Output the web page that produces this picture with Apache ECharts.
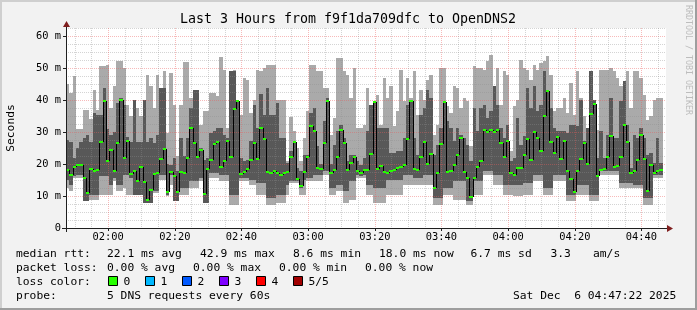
<!DOCTYPE html>
<html><head><meta charset="utf-8">
<script src="https://cdn.jsdelivr.net/npm/echarts@6/dist/echarts.min.js"></script>
<style>html,body{margin:0;padding:0;background:#f2f2f2}#c{width:697px;height:310px}</style>
</head><body><div id="c"></div>
<script>
// ---- time axis (seconds of day) ----
const START = 6442;   // 01:47:22
const END = 17242;    // 04:47:22
const STEP = 60;      // one probe round every 60 s
const xTickValues = [7200, 8400, 9600, 10800, 12000, 13200, 14400, 15600, 16800];
const xTickLabels = ['02:00', '02:20', '02:40', '03:00', '03:20', '03:40', '04:00', '04:20', '04:40'];
const yTickValues = [0, 10, 20, 30, 40, 50, 60];
const yTickLabels = ['0', '10 m', '20 m', '30 m', '40 m', '50 m', '60 m'];

// ---- series values (ms) ----
const medians = [
18.2,16.7,19.2,19.8,19.8,15.6,11.0,18.5,17.9,18.1,26.9,39.8,20.8,24.4,17.9,26.7,40.1,22.0,27.3,16.9,17.9,14.8,19.2,14.4,8.6,11.9,16.9,17.3,21.7,24.8,
11.3,17.5,16.1,11.3,17.5,17.3,21.9,31.3,26.5,22.3,24.4,10.6,18.5,21.3,26.3,26.9,19.2,21.0,27.3,22.3,37.3,39.8,16.9,17.5,18.5,21.3,26.7,21.5,31.3,27.9,
17.5,17.3,17.7,17.3,16.5,17.1,17.5,22.3,26.9,15.4,13.1,17.5,22.3,31.9,30.4,18.8,18.5,26.7,39.8,17.3,18.1,22.3,30.6,26.7,18.1,20.4,22.3,17.9,17.3,18.1,
18.1,23.1,39.4,18.5,19.4,17.5,17.3,17.7,18.1,18.8,19.2,19.8,27.9,39.8,18.3,18.1,22.3,26.9,20.0,23.1,12.5,17.3,26.3,39.4,17.5,17.7,19.8,22.9,28.1,17.5,
15.6,9.8,15.6,19.2,21.0,30.6,30.0,30.6,30.0,30.6,26.7,22.3,27.3,17.3,16.7,18.8,18.8,22.7,27.9,21.3,30.0,28.1,24.2,35.0,42.9,26.9,23.5,28.5,21.7,27.3,
17.9,15.4,11.3,17.9,21.7,26.7,20.0,35.6,38.8,16.3,18.1,18.5,22.3,28.8,19.2,19.4,22.3,32.3,26.9,17.3,17.9,21.3,29.2,21.7,11.7,19.8,17.3,17.9,18.0];
const upperInner = [ // 4th of 5 pings
27.6,27.0,22.0,25.0,27.0,28.0,29.0,27.0,36.0,35.4,35.4,43.8,31.0,29.0,30.0,39.0,40.6,38.5,28.5,27.0,40.1,27.0,27.0,40.1,27.0,28.1,26.6,29.2,43.7,43.7,
20.0,19.8,21.9,17.7,28.1,22.4,28.1,37.5,43.2,43.2,25.0,21.4,21.9,29.7,30.2,31.3,31.3,29.2,28.1,49.0,49.0,40.1,21.9,20.8,21.4,27.1,38.5,31.3,42.0,35.4,
43.8,35.4,35.4,39.1,28.1,28.1,20.3,24.0,27.1,18.8,17.7,22.9,22.9,36.0,37.5,25.5,20.0,33.3,40.6,20.0,26.0,30.2,32.3,28.1,20.8,22.9,22.9,20.8,19.8,21.9,
30.2,38.5,39.6,31.3,31.3,31.3,31.3,23.4,23.4,24.0,24.0,28.1,38.5,40.1,28.1,22.9,35.4,37.5,43.2,40.6,22.9,26.0,31.3,39.6,33.3,31.3,27.1,31.3,29.2,28.1,
26.0,20.8,37.5,30.2,37.5,38.5,34.4,36.5,44.3,38.5,31.3,28.1,32.3,20.8,21.9,34.4,26.0,28.6,43.8,37.5,44.3,36.5,38.5,49.0,43.2,37.5,31.3,30.2,30.2,30.2,
29.7,32.3,32.3,31.8,40.1,27.1,31.3,49.0,40.1,21.9,30.2,21.9,29.2,40.6,28.1,28.1,39.6,45.8,32.3,18.8,29.2,28.1,31.3,28.1,22.9,23.4,20.3,28.1,20.3];
const maxima = [
45.0,42.3,47.5,31.0,31.0,37.0,37.0,34.0,43.0,36.9,50.5,50.5,50.8,37.5,44.3,52.3,52.1,50.0,38.5,35.0,40.1,37.5,35.0,40.1,47.9,44.3,37.5,47.9,43.7,49.0,
29.7,48.4,38.5,22.4,38.5,51.9,51.9,40.6,43.2,43.2,32.3,36.5,36.5,42.2,42.2,41.1,53.3,49.5,31.3,49.0,49.5,40.1,35.4,46.9,46.4,35.9,40.1,49.5,49.0,50.0,
51.0,51.0,51.0,40.1,40.1,40.1,20.8,34.6,30.2,25.0,20.8,28.1,36.5,51.0,51.0,49.0,49.0,43.8,43.8,29.2,34.4,53.1,53.1,49.0,47.9,40.6,50.0,31.3,31.3,32.3,
43.8,38.5,39.6,41.7,32.3,46.9,40.6,44.3,31.8,36.5,49.5,39.6,46.9,40.6,49.0,35.4,43.2,40.1,46.4,47.9,29.2,32.3,50.0,50.0,38.0,35.9,44.3,43.8,37.5,40.6,
39.8,25.5,50.5,50.0,50.0,49.5,52.1,54.2,44.3,50.0,38.5,49.0,47.9,24.0,38.0,40.1,52.6,50.0,49.5,46.4,51.0,49.5,51.6,52.1,53.6,47.9,36.5,37.5,37.5,40.6,
35.9,45.3,35.4,49.0,40.6,34.9,31.3,49.0,40.1,30.7,49.5,49.5,49.5,50.0,49.0,46.9,44.3,45.8,49.0,37.5,49.0,49.0,46.9,41.7,33.9,34.9,40.1,40.6,40.6];
const lowerInner = [ // 2nd of 5 pings
15.1,13.5,16.1,16.7,16.7,8.3,8.3,10.4,10.4,10.4,16.1,16.1,16.1,13.5,15.6,13.5,13.5,16.7,16.7,15.6,10.4,10.4,10.4,7.8,7.8,7.8,11.5,11.5,16.7,16.7,
10.4,16.7,8.3,8.3,12.5,12.5,12.5,14.6,14.6,14.6,15.6,7.8,7.8,17.2,17.2,17.2,16.7,16.7,16.7,10.4,10.4,10.4,15.6,15.6,15.6,15.1,15.1,14.1,14.1,14.1,
9.4,9.4,9.4,10.4,10.4,10.4,13.5,14.6,14.6,14.6,12.5,15.1,15.6,15.6,16.7,16.7,16.7,17.7,17.7,12.5,12.5,13.5,13.5,11.5,11.5,14.6,14.6,16.7,16.1,16.7,
13.5,13.5,12.5,12.5,12.5,12.5,15.1,15.1,15.1,15.1,15.1,16.7,16.7,16.7,15.6,15.6,15.6,16.7,16.7,16.7,9.4,9.4,9.4,12.5,12.5,12.5,14.6,14.6,14.6,14.6,
8.3,8.3,14.6,14.6,14.6,17.7,17.7,17.7,16.7,16.7,16.7,13.5,13.5,13.5,13.5,13.5,13.5,14.1,14.1,14.1,16.7,16.7,16.7,12.5,12.5,12.5,16.7,16.7,16.7,16.7,
10.4,10.4,10.4,13.5,13.5,13.5,13.5,10.4,10.4,10.4,17.7,17.7,17.7,17.7,17.7,17.7,14.1,14.1,14.1,14.1,13.5,13.5,13.5,9.4,9.4,9.4,16.7,16.7,16.7];
const minima = [
12.5,11.5,15.6,15.6,15.6,8.3,8.3,8.9,8.9,8.9,10.4,10.4,10.4,10.4,14.6,11.5,11.5,12.5,10.4,10.4,10.4,10.4,10.4,7.8,7.8,7.8,10.9,10.9,15.1,15.1,
9.9,13.5,8.3,8.3,10.4,10.4,10.4,12.5,12.5,12.5,14.6,7.8,7.8,15.6,15.6,15.6,14.6,14.6,14.6,7.3,7.3,7.3,14.6,14.6,14.6,13.5,13.5,10.4,10.4,10.4,
7.3,7.3,7.3,7.8,7.8,7.8,10.4,14.1,14.1,14.1,10.4,10.4,14.6,14.6,14.6,14.6,14.6,16.7,16.7,10.4,10.4,11.5,11.5,7.8,7.8,8.9,8.9,15.6,15.6,15.6,
10.4,10.4,7.8,7.8,7.8,7.8,10.4,10.4,10.4,10.4,10.4,13.5,13.5,13.5,13.5,13.5,13.5,13.5,13.5,13.5,7.3,7.3,7.3,10.4,10.4,10.4,8.9,8.9,8.9,8.9,
7.3,7.3,10.4,10.4,10.4,16.7,16.7,16.7,13.5,13.5,13.5,10.4,10.4,10.4,9.9,9.9,9.9,10.4,10.4,10.4,14.6,14.6,14.6,10.4,10.4,10.4,14.6,14.6,14.6,14.6,
8.3,8.3,8.3,10.4,10.4,10.4,10.4,8.3,8.3,8.3,16.7,16.7,16.7,16.7,16.7,16.7,12.5,12.5,12.5,12.5,12.5,12.5,12.5,7.3,7.3,7.3,15.6,15.6,15.6];

// ---- texts ----
const titleText = 'Last 3 Hours from f9f1da709dfc to OpenDNS2';
const yAxisTitle = 'Seconds';
const watermark = 'RRDTOOL / TOBI OETIKER';
const legendRow1 = ['median rtt:', '22.1 ms avg', '42.9 ms max', '8.6 ms min', '18.0 ms now', '6.7 ms sd', '3.3', 'am/s'];
const legendRow2 = ['packet loss:', '0.00 % avg', '0.00 % max', '0.00 % min', '0.00 % now'];
const lossLabels = ['0', '1', '2', '3', '4', '5/5'];
const lossColors = ['#26ff00', '#00b8ff', '#0059ff', '#7e00ff', '#ff0000', '#a10000'];
const legendRow4 = ['probe:', '5 DNS requests every 60s'];
const dateText = 'Sat Dec  6 04:47:22 2025';

// ---- layout / style ----
const FONT = '"DejaVu Sans Mono", monospace';
const LIGHT = '#aaaaaa', DARK = '#585858', MEDIAN = '#26ff00';
const GRID = 'rgba(143,143,143,0.38)', MGRID = 'rgba(235,90,90,0.42)';
const AXIS = 'rgb(31,31,31)', ARROW = 'rgb(128,31,31)';
const G = {left: 66, top: 28, width: 600, height: 200};
const YMAX = 62.5;

const smokeData = medians.map((m, k) => [START + STEP * k, START + STEP * (k + 1), minima[k], lowerInner[k], m, upperInner[k], maxima[k], k > 0 ? medians[k - 1] : m]);
const gridV = []; for (let t = 6600; t < END; t += 300) gridV.push([t, 0]);
const gridH = []; for (let i = 1; i * 2.5 <= YMAX; i++) gridH.push([START, i * 2.5]);

const chart = echarts.init(document.getElementById('c'), null, {renderer: 'canvas', width: 697, height: 310});

function fmtTime(v) { const i = xTickValues.indexOf(v); return i >= 0 ? xTickLabels[i] : ''; }
function fmtY(v) { const i = yTickValues.indexOf(v); return i >= 0 ? yTickLabels[i] : ''; }

const texts = [];
const t = (text, x, y, size) => texts.push({type: 'text', x, y, z: 100, style: {text, font: size + 'px ' + FONT, fill: '#000', align: 'left', verticalAlign: 'middle', textAlign: 'left', textVerticalAlign: 'middle'}});
texts.push({type: 'text', x: 348, y: 19.5, z: 100, style: {text: titleText, font: '13.3px ' + FONT, fill: '#000', align: 'center', verticalAlign: 'middle', textAlign: 'center', textVerticalAlign: 'middle'}});
texts.push({type: 'text', x: 11, y: 128, rotation: Math.PI / 2, z: 100, style: {text: yAxisTitle, font: '11.3px ' + FONT, fill: '#000', align: 'center', verticalAlign: 'middle', textAlign: 'center', textVerticalAlign: 'middle'}});
texts.push({type: 'text', x: 688, y: 60, rotation: -Math.PI / 2, z: 100, style: {text: watermark, font: '8.3px ' + FONT, fill: '#bdbdbd', align: 'center', verticalAlign: 'middle', textAlign: 'center', textVerticalAlign: 'middle'}});
const row1X = [16, 107, 200, 293, 379, 470.5, 550.5, 593];
legendRow1.forEach((s, i) => t(s, row1X[i], 254.5, 11.3));
const row2X = [16, 107, 193, 279, 365];
legendRow2.forEach((s, i) => t(s, row2X[i], 268.5, 11.3));
t('loss color:', 16, 282, 11.3);
const sqX = [108.5, 145.5, 182.5, 219.5, 256.5, 293.5];
lossLabels.forEach((s, i) => {
  texts.push({type: 'rect', z: 100, shape: {x: sqX[i], y: 276.5, width: 9, height: 9}, style: {fill: lossColors[i], stroke: '#000', lineWidth: 1}});
  t(s, sqX[i] + 15, 282, 11.3);
});
t(legendRow4[0], 16, 296.5, 11.3);
t(legendRow4[1], 107, 296.5, 11.3);
t(dateText, 513, 296.5, 11.3);

// frame + axes decorations
const deco = [
  {type: 'rect', shape: {x: 0, y: 0, width: 697, height: 2}, style: {fill: '#cfcfcf'}, z: 90},
  {type: 'rect', shape: {x: 0, y: 0, width: 2, height: 310}, style: {fill: '#cfcfcf'}, z: 90},
  {type: 'rect', shape: {x: 0, y: 308, width: 697, height: 2}, style: {fill: '#9e9e9e'}, z: 91},
  {type: 'rect', shape: {x: 695, y: 0, width: 2, height: 310}, style: {fill: '#9e9e9e'}, z: 91},
  {type: 'line', shape: {x1: 62, y1: 228.5, x2: 668, y2: 228.5}, style: {stroke: AXIS, lineWidth: 1}, z: 95},
  {type: 'line', shape: {x1: 66.5, y1: 232, x2: 66.5, y2: 26}, style: {stroke: AXIS, lineWidth: 1}, z: 95},
  {type: 'polygon', shape: {points: [[667, 225], [673, 228.5], [667, 232]]}, style: {fill: ARROW}, z: 96},
  {type: 'polygon', shape: {points: [[63, 27], [66.5, 21], [70, 27]]}, style: {fill: ARROW}, z: 96}
];

chart.setOption({
  animation: false,
  backgroundColor: '#f2f2f2',
  grid: {left: G.left, top: G.top, width: G.width, height: G.height, show: true, backgroundColor: '#ffffff', borderWidth: 0, containLabel: false},
  xAxis: {
    type: 'value', min: START, max: END,
    axisLine: {show: false},
    splitLine: {show: false},
    axisTick: {show: true, customValues: xTickValues, length: 3, lineStyle: {color: AXIS}},
    axisLabel: {customValues: xTickValues, formatter: fmtTime, margin: 4, color: '#000', fontSize: 10.4, fontFamily: FONT}
  },
  yAxis: {
    type: 'value', min: 0, max: YMAX,
    axisLine: {show: false},
    splitLine: {show: false},
    axisTick: {show: true, customValues: yTickValues, length: 3, lineStyle: {color: AXIS}},
    axisLabel: {customValues: yTickValues, formatter: fmtY, margin: 5, color: '#000', fontSize: 10.4, fontFamily: FONT}
  },
  graphic: {elements: deco.concat(texts)},
  series: [
    {
      type: 'custom', name: 'smoke', z: 2, data: smokeData,
      encode: {x: [0, 1], y: [2, 3, 4, 5, 6]},
      renderItem(params, api) {
        const t0 = api.value(0), t1 = api.value(1);
        const x0 = Math.round(api.coord([t0, 0])[0]);
        const x1 = Math.round(api.coord([t1, 0])[0]);
        const yMin = Math.round(api.coord([t0, api.value(2)])[1]);
        const yP2 = Math.round(api.coord([t0, api.value(3)])[1]);
        const yP4 = Math.round(api.coord([t0, api.value(5)])[1]);
        const yMax = Math.round(api.coord([t0, api.value(6)])[1]);
        return {type: 'group', children: [
          {type: 'rect', shape: {x: x0, y: yMax, width: x1 - x0, height: yMin - yMax}, style: {fill: LIGHT}},
          {type: 'rect', shape: {x: x0, y: yP4, width: x1 - x0, height: yP2 - yP4}, style: {fill: DARK}}
        ]};
      }
    },
    {
      type: 'custom', name: 'gridH', z: 3, data: gridH, silent: true,
      renderItem(params, api) {
        const v = api.value(1);
        const y = Math.round(api.coord([START, v])[1]) + 0.5;
        const cs = params.coordSys;
        const major = Math.abs(v / 10 - Math.round(v / 10)) < 1e-6;
        return {type: 'line', shape: {x1: cs.x, y1: y, x2: cs.x + cs.width, y2: y}, style: {stroke: major ? MGRID : GRID, lineWidth: 1, lineDash: [1, 1]}};
      }
    },
    {
      type: 'custom', name: 'gridV', z: 3, data: gridV, silent: true,
      renderItem(params, api) {
        const tv = api.value(0);
        const x = Math.round(api.coord([tv, 0])[0]) + 0.5;
        const cs = params.coordSys;
        const major = tv % 1200 === 0;
        return {type: 'line', shape: {x1: x, y1: cs.y, x2: x, y2: cs.y + cs.height}, style: {stroke: major ? MGRID : GRID, lineWidth: 1, lineDash: [1, 1]}};
      }
    },
    {
      type: 'custom', name: 'median', z: 4, data: smokeData,
      encode: {x: [0, 1], y: [4]},
      renderItem(params, api) {
        const t0 = api.value(0), t1 = api.value(1);
        const x0 = Math.round(api.coord([t0, 0])[0]);
        const x1 = Math.round(api.coord([t1, 0])[0]);
        const y = Math.round(api.coord([t0, api.value(4)])[1]);
        const yPrev = Math.round(api.coord([t0, api.value(7)])[1]);
        const children = [];
        if (params.dataIndex > 0 && yPrev !== y) {
          children.push({type: 'line', shape: {x1: x0 + 0.5, y1: yPrev, x2: x0 + 0.5, y2: y}, style: {stroke: '#000', lineWidth: 1}});
        }
        children.push({type: 'rect', shape: {x: x0, y: y - 1, width: x1 - x0, height: 2}, style: {fill: MEDIAN}});
        return {type: 'group', children};
      }
    }
  ]
});
</script>
</body></html>
